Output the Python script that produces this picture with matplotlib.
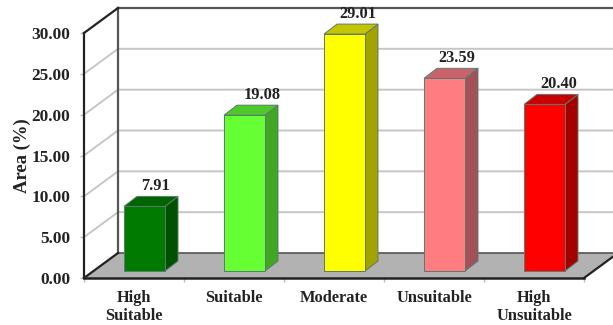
import matplotlib
matplotlib.use('Agg')
import matplotlib.pyplot as plt
from matplotlib.patches import Polygon

categories = ['High\nSuitable', 'Suitable', 'Moderate', 'Unsuitable', 'High\nUnsuitable']
values = [7.91, 19.08, 29.01, 23.59, 20.40]
value_labels = ['7.91', '19.08', '29.01', '23.59', '20.40']
front_colors = ['#007a00', '#66ff33', '#ffff00', '#ff7c80', '#ff0000']
top_colors = ['#006400', '#4fc92a', '#c4c400', '#c9626a', '#c80000']
side_colors = ['#005200', '#41a624', '#a3a300', '#a35158', '#a30000']
yticks = [0, 5, 10, 15, 20, 25, 30]

W, H = 613, 325
plt.rcParams['font.family'] = ['Liberation Serif', 'DejaVu Serif']
plt.rcParams['font.weight'] = 'bold'

fig = plt.figure(figsize=(W / 100, H / 100), dpi=100)
ax = fig.add_axes([84 / W, (H - 278) / H, 500 / W, 245 / H])
ax.set_xlim(0, 5)
ax.set_ylim(0, 30)
ax.patch.set_visible(False)

# one data unit in pixels, used for the fake 3d depth
ux = 100.0
uy = 245 / 30.0
wall_dx = 34 / ux
wall_dy = 25 / uy
bar_dx = 13 / ux
bar_dy = 10 / uy
bar_w = 41 / ux
bar_shift = 40 / ux
bar_lift = 7 / uy
label_nudge = [0, 7, 3, 2, 4]

# floor
ax.add_patch(Polygon([(0, 0), (5, 0), (5 + wall_dx, wall_dy), (wall_dx, wall_dy)],
                     closed=True, fc='#b2b2b2', ec='none', clip_on=False, zorder=1))

# gridlines on back wall and side wall
for v in yticks[1:-1]:
    ax.plot([0, wall_dx, 5 + wall_dx], [v, v + wall_dy, v + wall_dy], color='#c6c6c6',
            lw=1.4, clip_on=False, zorder=1)

# wall frame
ax.plot([wall_dx, wall_dx], [wall_dy, 30 + wall_dy], color='#555555', lw=1.6, clip_on=False, zorder=2)
ax.plot([wall_dx, 5 + wall_dx], [30 + wall_dy, 30 + wall_dy], color='#555555', lw=1.6, clip_on=False, zorder=2)
ax.plot([wall_dx, 5 + wall_dx], [wall_dy, wall_dy], color='#555555', lw=1.2, clip_on=False, zorder=2)
ax.plot([0, wall_dx], [30, 30 + wall_dy], color='#222222', lw=1.6, clip_on=False, zorder=2)
ax.plot([0, wall_dx], [0, wall_dy], color='#222222', lw=1.6, clip_on=False, zorder=2)
ax.plot([5, 5 + wall_dx], [0, wall_dy], color='#222222', lw=1.6, clip_on=False, zorder=2)

# bars
for i, v in enumerate(values):
    x0 = i + bar_shift
    x1 = x0 + bar_w
    y0 = bar_lift
    y1 = v + bar_lift
    edge = '#5a7a70'
    ax.add_patch(Polygon([(x1, y0), (x1 + bar_dx, y0 + bar_dy), (x1 + bar_dx, y1 + bar_dy), (x1, y1)],
                         closed=True, fc=side_colors[i], ec=edge, lw=0.7, clip_on=False, zorder=3))
    ax.add_patch(Polygon([(x0, y1), (x1, y1), (x1 + bar_dx, y1 + bar_dy), (x0 + bar_dx, y1 + bar_dy)],
                         closed=True, fc=top_colors[i], ec=edge, lw=0.7, clip_on=False, zorder=3))
    ax.add_patch(Polygon([(x0, y0), (x1, y0), (x1, y1), (x0, y1)],
                         closed=True, fc=front_colors[i], ec=edge, lw=0.7, clip_on=False, zorder=4))
    ax.text(x0 + bar_w / 2 + 0.105 + label_nudge[i] / ux, y1 + bar_dy + 0.25, value_labels[i],
            ha='center', va='bottom', fontsize=11.8, fontweight='bold', color='#222222',
            clip_on=False, zorder=5)

for side in ['top', 'right']:
    ax.spines[side].set_visible(False)
ax.spines['left'].set_color('#222222')
ax.spines['left'].set_linewidth(1.6)
ax.spines['bottom'].set_color('#222222')
ax.spines['bottom'].set_linewidth(1.8)
ax.spines['left'].set_zorder(6)
ax.spines['bottom'].set_zorder(6)

ax.set_yticks(yticks)
ax.set_yticklabels([f'{v:.2f}' for v in yticks], fontsize=12.4, fontweight='bold', color='#222222')
ax.set_xticks(range(6))
ax.set_xticklabels([])
ax.set_xticks([i + 0.5 for i in range(5)], minor=True)
ax.set_xticklabels(categories, minor=True, fontsize=11.8, fontweight='bold', color='#222222',
                   linespacing=1.12, va='top')
ax.tick_params(axis='x', which='major', length=3, color='#bbbbbb', width=1)
ax.tick_params(axis='x', which='minor', length=0, pad=9)
ax.tick_params(axis='y', length=3, color='#bbbbbb', width=1, pad=7)
ax.set_ylabel('Area (%)', fontsize=13.4, fontweight='bold', color='#222222')
ax.yaxis.set_label_coords((31 - 84) / 500, 0.5)

fig.savefig('out.png', dpi=100)
